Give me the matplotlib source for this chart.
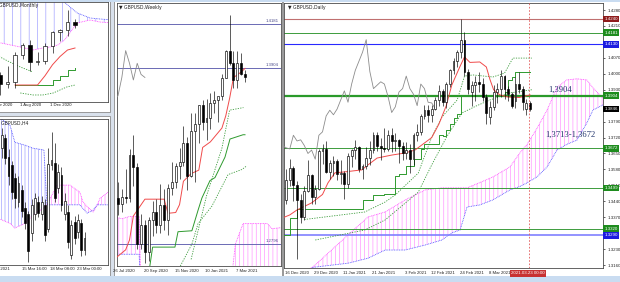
import numpy as np
import matplotlib
matplotlib.use('Agg')
import matplotlib.pyplot as plt
import matplotlib.transforms as mtransforms
from matplotlib.patches import Rectangle

plt.rcParams['hatch.linewidth'] = 0.45
plt.rcParams['font.family'] = ['Liberation Sans', 'DejaVu Sans']

W, H = 620, 282

# ---------------- Daily ----------------
daily_open = [1.3290, 1.3225, 1.3310, 1.3445, 1.3535, 1.3585, 1.3510, 1.3445, 1.3370, 1.3485,
              1.3555, 1.3460, 1.3495, 1.3660, 1.3670, 1.3570, 1.3610, 1.3615, 1.3560, 1.3565,
              1.3515, 1.3640, 1.3665, 1.3680, 1.3580, 1.3595, 1.3630, 1.3665, 1.3730, 1.3685,
              1.3675, 1.3670, 1.3730, 1.3705, 1.3710, 1.3685, 1.3650, 1.3665, 1.3625, 1.3730,
              1.3745, 1.3815, 1.3840, 1.3820, 1.3845, 1.3885, 1.3925, 1.3875, 1.3955, 1.4015,
              1.4055, 1.4095, 1.4150, 1.4010, 1.3920, 1.3950, 1.3965, 1.3955, 1.3900, 1.3810,
              1.3855, 1.3920, 1.3935, 1.3990, 1.3935, 1.3910, 1.3880, 1.3955, 1.3935, 1.3845,
              1.3870]
daily_high = [1.3300, 1.3440, 1.3460, 1.3580, 1.3625, 1.3595, 1.3530, 1.3470, 1.3505, 1.3620,
              1.3560, 1.3510, 1.3670, 1.3690, 1.3705, 1.3620, 1.3640, 1.3625, 1.3620, 1.3575,
              1.3650, 1.3670, 1.3710, 1.3685, 1.3605, 1.3680, 1.3705, 1.3745, 1.3745, 1.3720,
              1.3760, 1.3755, 1.3760, 1.3740, 1.3715, 1.3700, 1.3700, 1.3690, 1.3740, 1.3780,
              1.3825, 1.3865, 1.3865, 1.3865, 1.3900, 1.3950, 1.3935, 1.3965, 1.4020, 1.4070,
              1.4105, 1.4240, 1.4185, 1.4020, 1.3970, 1.3990, 1.4010, 1.3980, 1.3910, 1.3880,
              1.3950, 1.3960, 1.4015, 1.3995, 1.3945, 1.3920, 1.3985, 1.4010, 1.3945, 1.3890,
              1.3880]
daily_low = [1.3135, 1.3220, 1.3275, 1.3430, 1.3505, 1.3440, 1.3188, 1.3345, 1.3360, 1.3480,
             1.3430, 1.3430, 1.3490, 1.3605, 1.3565, 1.3540, 1.3550, 1.3535, 1.3515, 1.3450,
             1.3500, 1.3590, 1.3625, 1.3570, 1.3540, 1.3580, 1.3600, 1.3650, 1.3660, 1.3620,
             1.3655, 1.3660, 1.3655, 1.3660, 1.3610, 1.3620, 1.3625, 1.3566, 1.3600, 1.3705,
             1.3730, 1.3800, 1.3790, 1.3790, 1.3840, 1.3860, 1.3860, 1.3850, 1.3940, 1.4000,
             1.4030, 1.4070, 1.3990, 1.3910, 1.3860, 1.3880, 1.3920, 1.3880, 1.3780, 1.3778,
             1.3840, 1.3870, 1.3900, 1.3890, 1.3880, 1.3850, 1.3850, 1.3915, 1.3840, 1.3820,
             1.3835]
daily_close = [1.3225, 1.3310, 1.3445, 1.3535, 1.3585, 1.3510, 1.3445, 1.3370, 1.3485, 1.3555,
               1.3460, 1.3495, 1.3660, 1.3670, 1.3570, 1.3610, 1.3615, 1.3560, 1.3565, 1.3515,
               1.3640, 1.3665, 1.3680, 1.3580, 1.3595, 1.3630, 1.3665, 1.3730, 1.3685, 1.3675,
               1.3670, 1.3730, 1.3705, 1.3710, 1.3685, 1.3650, 1.3665, 1.3625, 1.3730, 1.3745,
               1.3815, 1.3840, 1.3820, 1.3845, 1.3885, 1.3925, 1.3875, 1.3955, 1.4015, 1.4055,
               1.4095, 1.4150, 1.4010, 1.3935, 1.3950, 1.3965, 1.3955, 1.3900, 1.3830, 1.3855,
               1.3920, 1.3935, 1.3990, 1.3935, 1.3910, 1.3860, 1.3955, 1.3935, 1.3875, 1.3872,
               1.3846]
daily_label_bars = [3, 11, 19, 27, 36, 43, 51, 59]
daily_labels = ['16 Dec 2020', '29 Dec 2020', '11 Jan 2021', '21 Jan 2021',
                '3 Feb 2021', '12 Feb 2021', '24 Feb 2021', '8 Mar 2021']
daily_tenkan_x = [0, 2, 4, 6, 10, 13, 14.5, 16.4, 19, 23.8, 25.5, 28, 32, 35.6, 38.4, 41, 43,
                  45, 47, 48.5, 50.7, 52, 53.5, 56.2, 58, 59, 60, 61.7, 64, 67, 70]
daily_tenkan = [1.3330, 1.3367, 1.3380, 1.3402, 1.3433, 1.3470, 1.3521, 1.3565, 1.3569, 1.3578,
                1.3600, 1.3630, 1.3643, 1.3652, 1.3665, 1.3696, 1.3720, 1.3780, 1.3860, 1.3950,
                1.4030, 1.4074, 1.4050, 1.4052, 1.4030, 1.3975, 1.3930, 1.3907, 1.3898, 1.3896,
                1.3907]
daily_kijun_x = [0, 4, 6, 24, 27, 30, 33, 34, 36, 38, 40, 41, 45, 46, 47, 48, 49, 50, 51, 63,
                 64, 65, 66, 70]
daily_kijun = [1.3290, 1.3365, 1.3407, 1.3447, 1.3467, 1.3474, 1.3553, 1.3560, 1.3595, 1.3625,
               1.3670, 1.3690, 1.3733, 1.3725, 1.3752, 1.3780, 1.3805, 1.3822, 1.3903, 1.3920,
               1.3973, 1.3985, 1.4009, 1.4009]
daily_dot1_x = [8, 24.6, 30.2, 33, 39.3, 43, 45.8, 50, 52, 54.3, 59.8, 63, 65.3, 70.5]
daily_dot1 = [1.3360, 1.3393, 1.3437, 1.3468, 1.3564, 1.3722, 1.3810, 1.3885, 1.3990, 1.3995,
              1.3986, 1.4003, 1.4069, 1.4069]
daily_dot2_x = [11, 24.6, 30.2, 39.3, 43, 47, 51.3, 55.4, 59, 64.5, 70.5]
daily_dot2 = [1.3270, 1.3314, 1.3358, 1.3480, 1.3600, 1.3720, 1.3828, 1.3860, 1.3885, 1.3916,
              1.3930]
daily_cloud_x = [2, 10.4, 20, 25.5, 30.2, 35.7, 41.2, 45.8, 48.5, 50.8, 52.7, 56.2, 59.8, 64.5,
                 67.2, 69.2, 71.9, 74.7, 77.4, 80.1, 82.9, 85.6, 87.3, 90.5]
daily_span_a = [1.3080, 1.3152, 1.3292, 1.3371, 1.3393, 1.3446, 1.3490, 1.3499, 1.3499, 1.3499,
                1.3499, 1.3522, 1.3547, 1.3591, 1.3652, 1.3690, 1.3760, 1.3841, 1.3940, 1.3973,
                1.3978, 1.3973, 1.3938, 1.3885]
daily_span_b = [1.3050, 1.3150, 1.3168, 1.3190, 1.3226, 1.3226, 1.3248, 1.3270, 1.3301, 1.3314,
                1.3415, 1.3424, 1.3446, 1.3490, 1.3505, 1.3521, 1.3547, 1.3591, 1.3665, 1.3690,
                1.3709, 1.3784, 1.3841, 1.3867]
daily_levels = [1.4240, 1.4181, 1.4130, 1.3904, 1.3672, 1.3499, 1.3320, 1.3290]
daily_level_colors = ['#c07070', '#3c9c3c', '#2828ff', '#2a9a2a', '#3c9c3c', '#3c9c3c',
                      '#3c9c3c', '#8080ff']
daily_level_widths = [0.8, 0.7, 0.8, 1.6, 0.7, 0.7, 0.7, 1.2]
daily_box_colors = ['#8e1c1c', '#1e8c1e', '#1c1ce0', '#1e8c1e', '#1e8c1e', '#1e8c1e',
                    '#1e8c1e', '#1c1ce0']
daily_price_ticks = [1.4280, 1.4210, 1.4070, 1.4000, 1.3930, 1.3790, 1.3720,
                     1.3650, 1.3580, 1.3510, 1.3440, 1.3370, 1.3230, 1.3160]
current_price = 1.3846
note_level = '1,3904'
note_cloud = '1,3713-1,3672'

# ---------------- Weekly ----------------
weekly_open = [1.2335, 1.2485, 1.2615, 1.2565, 1.2795, 1.3085, 1.3050, 1.3090, 1.3085, 1.3355,
               1.3280, 1.2795, 1.2915, 1.2745, 1.2945, 1.3000, 1.2915, 1.3045, 1.2945, 1.3150,
               1.3190, 1.3285, 1.3315, 1.3435, 1.3225, 1.3510, 1.3555, 1.3670, 1.3565, 1.3590,
               1.3685, 1.3705, 1.3730, 1.3845, 1.4015, 1.3935, 1.3830, 1.3935, 1.3865]
weekly_high = [1.2535, 1.2670, 1.2670, 1.2815, 1.3170, 1.3185, 1.3145, 1.3267, 1.3395, 1.3482,
               1.3305, 1.2985, 1.2945, 1.2965, 1.3065, 1.3082, 1.3175, 1.3140, 1.3175, 1.3315,
               1.3310, 1.3400, 1.3540, 1.3470, 1.3625, 1.3620, 1.3670, 1.3705, 1.3710, 1.3745,
               1.3760, 1.3710, 1.3865, 1.4020, 1.4240, 1.4010, 1.4015, 1.4000, 1.3890]
weekly_low = [1.2250, 1.2465, 1.2480, 1.2520, 1.2785, 1.2980, 1.3000, 1.3055, 1.3060, 1.3165,
              1.2762, 1.2765, 1.2676, 1.2690, 1.2845, 1.2865, 1.2865, 1.2885, 1.2855, 1.3105,
              1.3150, 1.3205, 1.3290, 1.3135, 1.3220, 1.3188, 1.3430, 1.3515, 1.3450, 1.3520,
              1.3620, 1.3566, 1.3705, 1.3840, 1.3925, 1.3780, 1.3778, 1.3860, 1.3820]
weekly_close = [1.2485, 1.2615, 1.2565, 1.2795, 1.3085, 1.3050, 1.3090, 1.3085, 1.3355, 1.3280,
                1.2795, 1.2915, 1.2745, 1.2945, 1.3000, 1.2915, 1.3045, 1.2945, 1.3150, 1.3190,
                1.3285, 1.3315, 1.3435, 1.3225, 1.3510, 1.3555, 1.3670, 1.3565, 1.3590, 1.3685,
                1.3705, 1.3730, 1.3845, 1.4015, 1.3935, 1.3830, 1.3935, 1.3865, 1.3846]
weekly_label_bars = [4, 12, 20, 28, 36]
weekly_labels = ['26 Jul 2020', '20 Sep 2020', '15 Nov 2020', '10 Jan 2021', '7 Mar 2021']
weekly_tenkan_x = [4, 7, 8, 9, 12, 17, 18, 20, 21, 22, 24, 26, 27, 29, 32, 33, 34, 35, 37, 38]
weekly_tenkan = [1.2700, 1.2760, 1.2822, 1.2973, 1.3079, 1.3079, 1.2990, 1.2995, 1.3045, 1.3192,
                 1.3240, 1.3262, 1.3405, 1.3440, 1.3527, 1.3604, 1.3714, 1.3845, 1.3880, 1.3903]
weekly_kijun_x = [4, 12, 14, 19.8, 20.6, 24.2, 25.8, 26.8, 28.9, 30.2, 32.8, 34.1, 37.5, 38]
weekly_kijun = [1.2400, 1.2446, 1.2777, 1.2777, 1.2874, 1.2880, 1.3009, 1.3086, 1.3196, 1.3215,
                1.3344, 1.3458, 1.3485, 1.3485]
weekly_dot1_x = [20.3, 24.2, 25.8, 29.4, 33.6, 37.2, 38.5]
weekly_dot1 = [1.2616, 1.2796, 1.2925, 1.3035, 1.3234, 1.3266, 1.3290]
weekly_dot2_x = [24, 26, 28, 30, 32, 34, 37.6]
weekly_dot2 = [1.2700, 1.2900, 1.3100, 1.3250, 1.3400, 1.3640, 1.3656]
weekly_cloud_x = [4, 6, 8, 10.5, 11, 30, 34.6, 35.5, 37.5, 40, 43.8, 45, 47.5]
weekly_span_a = [1.2970, 1.2955, 1.2970, 1.2970, 1.2500, 1.2500, 1.2600, 1.2796, 1.2925, 1.2925,
                 1.2925, 1.2893, 1.2900]
weekly_span_b = [1.2732, 1.2732, 1.2732, 1.2732, 1.2450, 1.2450, 1.2450, 1.2450, 1.2450, 1.2450,
                 1.2450, 1.2450, 1.2450]
weekly_levels = [1.4181, 1.3904, 1.2796]
weekly_level_labels = ['1.4181', '1.3904', '1.2796']

# ---------------- Monthly ----------------
monthly_open = [1.2750, 1.2410, 1.2580, 1.2355, 1.2400, 1.3085, 1.3355, 1.2915, 1.2945, 1.3325,
                1.3670, 1.3730, 1.3930]
monthly_high = [1.3200, 1.2650, 1.2645, 1.2815, 1.3170, 1.3395, 1.3482, 1.3175, 1.3400, 1.3705,
                1.3760, 1.4240, 1.4015]
monthly_low = [1.1410, 1.2165, 1.2075, 1.2250, 1.2250, 1.2980, 1.2676, 1.2845, 1.2855, 1.3135,
               1.3450, 1.3566, 1.3778]
monthly_close = [1.2410, 1.2580, 1.2355, 1.2400, 1.3085, 1.3355, 1.2915, 1.2945, 1.3325, 1.3670,
                 1.3730, 1.3930, 1.3846]
monthly_label_bars = [1.25, 5, 9]
monthly_labels = ['1 Apr 2020', '1 Aug 2020', '1 Dec 2020']
monthly_tenkan_x = [4, 7, 8, 9, 10, 11, 12]
monthly_tenkan = [1.2323, 1.2323, 1.2560, 1.2840, 1.3050, 1.3216, 1.3267]
monthly_kijun_x = [4, 8, 9, 10, 11, 12]
monthly_kijun = [1.2323, 1.2323, 1.2451, 1.2560, 1.2706, 1.2757]
monthly_dot1_x = [1.5, 2, 3.3, 4.7, 6.4]
monthly_dot1 = [1.3100, 1.3037, 1.2910, 1.2783, 1.2655]
monthly_dot2_x = [4.7, 6.4, 7.7, 9.1, 10.9, 12]
monthly_dot2 = [1.2120, 1.2069, 1.2069, 1.2120, 1.2273, 1.2323]
monthly_cloud_x = [1.5, 4.7, 6.4, 7.7, 8.7, 9.7, 10.6, 10.9, 12.3, 14, 15.3, 17.1]
monthly_span_a = [1.3420, 1.3293, 1.3216, 1.3267, 1.3293, 1.3344, 1.3471, 1.3548, 1.3905, 1.3981,
                  1.3930, 1.3905]
monthly_span_b = [1.4700, 1.4700, 1.4700, 1.4700, 1.4700, 1.4700, 1.4440, 1.4380, 1.4160, 1.4032,
                  1.4007, 1.3981]

# ---------------- H4 ----------------
h4_open = [1.3976, 1.3993, 1.3962, 1.3948, 1.3926, 1.3886, 1.3906, 1.3875, 1.3865, 1.3833,
           1.3865, 1.3885, 1.3865, 1.3880, 1.3840, 1.3948, 1.3951, 1.3910, 1.3931, 1.3865,
           1.3869, 1.3797, 1.3852, 1.3835, 1.3850, 1.3805]
h4_high = [1.4010, 1.4000, 1.3975, 1.3955, 1.3935, 1.3930, 1.3915, 1.3885, 1.3870, 1.3890,
           1.3900, 1.3895, 1.3895, 1.3890, 1.3976, 1.4003, 1.3985, 1.3950, 1.3945, 1.3900,
           1.3880, 1.3855, 1.3862, 1.3865, 1.3858, 1.3835]
h4_low = [1.3960, 1.3950, 1.3915, 1.3890, 1.3875, 1.3878, 1.3860, 1.3840, 1.3785, 1.3820,
          1.3855, 1.3860, 1.3855, 1.3820, 1.3835, 1.3940, 1.3885, 1.3900, 1.3870, 1.3855,
          1.3808, 1.3790, 1.3815, 1.3825, 1.3795, 1.3797]
h4_close = [1.3998, 1.3960, 1.3930, 1.3902, 1.3892, 1.3918, 1.3870, 1.3850, 1.3803, 1.3880,
            1.3892, 1.3868, 1.3886, 1.3830, 1.3950, 1.3956, 1.3892, 1.3936, 1.3881, 1.3888,
            1.3818, 1.3847, 1.3825, 1.3855, 1.3805, 1.3825]
h4_label_bars = [-4.4, 6.4, 14.8, 23]
h4_labels = ['12 Mar 2021', '15 Mar 16:00', '18 Mar 08:00', '23 Mar 00:00']
h4_cloud_x = [-1.5, 2.4, 3.9, 7, 9.4, 12.7, 13.6, 16.7, 20.6, 23.6, 24.5, 25.8, 27.6, 28.8, 29.7,
              33]
h4_span_a = [1.3859, 1.3850, 1.3842, 1.3850, 1.3864, 1.3876, 1.3881, 1.3914, 1.3914, 1.3902,
             1.3886, 1.3878, 1.3869, 1.3880, 1.3892, 1.3906]
h4_span_b = [1.4030, 1.4015, 1.3986, 1.3981, 1.3976, 1.3973, 1.3881, 1.3881, 1.3881, 1.3881,
             1.3875, 1.3867, 1.3872, 1.3881, 1.3881, 1.3881]

fig = plt.figure(figsize=(W / 100, H / 100), dpi=100, facecolor='#d9e1ec')


def fig_rect(x0, y0, x1, y1, color, ec='none', lw=0):
    fig.add_artist(Rectangle((x0 / W, 1 - y1 / H), (x1 - x0) / W, (y1 - y0) / H,
                             transform=fig.transFigure, facecolor=color, edgecolor=ec,
                             lw=lw, zorder=0))


def px_axes(x0, y0, x1, y1):
    ax = fig.add_axes([x0 / W, 1 - y1 / H, (x1 - x0) / W, (y1 - y0) / H])
    ax.set_facecolor('white')
    for s in ax.spines.values():
        s.set_color('#4a4a4a')
        s.set_linewidth(0.6)
    ax.set_xticks([])
    ax.set_yticks([])
    return ax


def candles(ax, o, h, l, c, width, lw=0.45):
    o, h, l, c = map(np.asarray, (o, h, l, c))
    x = np.arange(len(o))
    ax.vlines(x, l, h, color='black', lw=lw, zorder=4)
    up = c >= o
    bottom = np.minimum(o, c)
    height = np.abs(c - o)
    ax.bar(x[up], height[up], width, bottom=bottom[up], facecolor='white',
           edgecolor='black', lw=lw, zorder=5)
    ax.bar(x[~up], height[~up], width, bottom=bottom[~up], facecolor='black',
           edgecolor='black', lw=lw, zorder=5)


def cloud(ax, x, a, b, hatch):
    a = np.asarray(a)
    b = np.asarray(b)
    ax.fill_between(x, a, b, where=a >= b, interpolate=True, facecolor='none',
                    edgecolor='#ff8cff', hatch=hatch, lw=0, zorder=1)
    ax.fill_between(x, a, b, where=b > a, interpolate=True, facecolor='none',
                    edgecolor='#9a9aff', hatch=hatch, lw=0, zorder=1)
    ax.plot(x, a, color='#ff40ff', lw=0.6, ls=(0, (1, 1)), zorder=2)
    ax.plot(x, b, color='#4b4bff', lw=0.6, ls=(0, (1, 1)), zorder=2)


def date_labels(ax, bars, labels):
    tr = mtransforms.blended_transform_factory(ax.transData, ax.transAxes)
    for b, t in zip(bars, labels):
        ax.text(b - 0.3, -0.012, t, transform=tr, ha='left', va='top', fontsize=3.1,
                color='#222222', clip_on=False)


def title(ax, x, text):
    ax.text(x, 0.993, text, transform=ax.transAxes, ha='left', va='top', fontsize=3.3,
            color='#222222', family=['DejaVu Sans'])


# window backgrounds
fig_rect(-2, 0, 110, 112, 'white', '#8a8a8a', 0.6)
fig_rect(-2, 116, 110, 276, 'white', '#8a8a8a', 0.6)
fig_rect(114, 0, 282, 276, 'white', '#8a8a8a', 0.6)
fig_rect(283, 0, 622, 276, 'white', '#8a8a8a', 0.6)
fig_rect(0, 276, 620, 282, '#c9dcf1')
fig_rect(0, 0, 620, 1.5, '#c9dcf1')

# ---- Monthly panel
axm = px_axes(-2, 2, 108, 102)
cloud(axm, monthly_cloud_x, monthly_span_a, monthly_span_b, '||')
axm.plot(monthly_dot1_x, monthly_dot1, color='#3c9c3c', lw=0.6, ls=(0, (1.5, 1.5)))
axm.plot(monthly_dot2_x, monthly_dot2, color='#3c9c3c', lw=0.6, ls=(0, (1.5, 1.5)))
axm.plot(monthly_kijun_x, monthly_kijun, color='#2e9a2e', lw=0.7, drawstyle='steps-post')
axm.plot(monthly_tenkan_x, monthly_tenkan, color='#f04a4a', lw=0.7)
candles(axm, monthly_open, monthly_high, monthly_low, monthly_close, 0.5)
axm.set_xlim(1.73, 16.4)
axm.set_ylim(1.1890, 1.4440)
date_labels(axm, monthly_label_bars, monthly_labels)
title(axm, -0.032, '\u25bc GBPUSD,Monthly')

# ---- H4 panel
axh = px_axes(-2, 119, 108, 265)
cloud(axh, h4_cloud_x, h4_span_a, h4_span_b, '|||||')
candles(axh, h4_open, h4_high, h4_low, h4_close, 0.55)
axh.set_xlim(-1.2, 32.1)
axh.set_ylim(1.3780, 1.4025)
date_labels(axh, h4_label_bars, h4_labels)
title(axh, -0.02, '\u25bc GBPUSD,H4')

# ---- Weekly panel
axw = px_axes(117, 3, 281, 266)
cloud(axw, weekly_cloud_x, weekly_span_a, weekly_span_b, '||||')
wtr = mtransforms.blended_transform_factory(axw.transAxes, axw.transData)
for lev, lab in zip(weekly_levels, weekly_level_labels):
    axw.axhline(lev, color='#6a6ab4', lw=0.7, zorder=2)
    axw.text(0.985, lev + 0.0006, lab, transform=wtr, ha='right', va='bottom', fontsize=3.1,
             color='#4a4a8a')
wk_close = np.asarray(weekly_close)
axw.plot(np.arange(len(wk_close)) - 26, wk_close, color='#8c8c8c', lw=0.6, zorder=3)
axw.plot(weekly_dot1_x, weekly_dot1, color='#3c9c3c', lw=0.6, ls=(0, (1.5, 1.5)), zorder=3)
axw.plot(weekly_dot2_x, weekly_dot2, color='#3c9c3c', lw=0.6, ls=(0, (1.5, 1.5)), zorder=3)
axw.plot(weekly_kijun_x, weekly_kijun, color='#2e9a2e', lw=0.7, zorder=3)
axw.plot(weekly_tenkan_x, weekly_tenkan, color='#f04a4a', lw=0.7, zorder=3)
candles(axw, weekly_open, weekly_high, weekly_low, weekly_close, 0.5)
axw.set_xlim(4.75, 47.35)
axw.set_ylim(1.2658, 1.4315)
date_labels(axw, weekly_label_bars, weekly_labels)
title(axw, 0.015, '\u25bc GBPUSD,Weekly')

# ---- Daily panel
axd = px_axes(284, 3, 603, 268)
cloud(axd, daily_cloud_x, daily_span_a, daily_span_b, '||||')
for lev, col, lw in zip(daily_levels, daily_level_colors, daily_level_widths):
    axd.axhline(lev, color=col, lw=lw, zorder=2)
d_close = np.asarray(daily_close)
axd.plot(np.arange(len(d_close)) - 26, d_close, color='#8c8c8c', lw=0.6, zorder=3)
axd.plot(daily_dot1_x, daily_dot1, color='#3c9c3c', lw=0.6, ls=(0, (1.5, 1.5)), zorder=3)
axd.plot(daily_dot2_x, daily_dot2, color='#3c9c3c', lw=0.6, ls=(0, (1.5, 1.5)), zorder=3)
axd.plot(daily_kijun_x, daily_kijun, color='#2e9a2e', lw=0.7, drawstyle='steps-post', zorder=3)
axd.plot(daily_tenkan_x, daily_tenkan, color='#f04a4a', lw=0.7, zorder=3)
candles(axd, daily_open, daily_high, daily_low, daily_close, 0.5)
axd.axvline(69.6, color='#e25b5b', lw=0.6, ls=(0, (2, 2)), zorder=6)
axd.set_xlim(2.42, 90.05)
axd.set_ylim(1.3147, 1.4311)
axd.yaxis.tick_right()
axd.set_yticks(daily_price_ticks)
axd.set_yticklabels(['%.4f' % v for v in daily_price_ticks])
axd.tick_params(axis='y', length=1.5, width=0.5, pad=1.5, labelsize=3.2, colors='#222222')
date_labels(axd, daily_label_bars, daily_labels)
title(axd, 0.012, '\u25bc GBPUSD,Daily')
axd.text(75.0, 1.3904 + 0.0006, note_level, ha='left', va='bottom', fontsize=6.2,
         family=['Liberation Serif'], color='#26386e', zorder=7)
axd.text(74.2, 1.3713, note_cloud, ha='left', va='bottom', fontsize=6.2,
         family=['Liberation Serif'], color='#26386e', zorder=7)

ytr = mtransforms.blended_transform_factory(axd.transAxes, axd.transData)
for lev, col in zip(daily_levels, daily_box_colors):
    axd.text(1.004, lev, '%.4f' % lev, transform=ytr, ha='left', va='center', fontsize=3.2,
             color='white', zorder=8, clip_on=False,
             bbox=dict(boxstyle='square,pad=0.3', facecolor=col, edgecolor='none'))
axd.text(1.004, current_price, '%.4f' % current_price, transform=ytr, ha='left', va='center',
         fontsize=3.2, color='white', zorder=8, clip_on=False,
         bbox=dict(boxstyle='square,pad=0.3', facecolor='black', edgecolor='none'))
xtr = mtransforms.blended_transform_factory(axd.transData, axd.transAxes)
axd.text(64.8, -0.012, '2021.03.23 00:00', transform=xtr, ha='left', va='top', fontsize=3.2,
         color='white', clip_on=False, zorder=8,
         bbox=dict(boxstyle='square,pad=0.3', facecolor='#c83232', edgecolor='none'))

fig.savefig('out.png', dpi=100, facecolor=fig.get_facecolor())
